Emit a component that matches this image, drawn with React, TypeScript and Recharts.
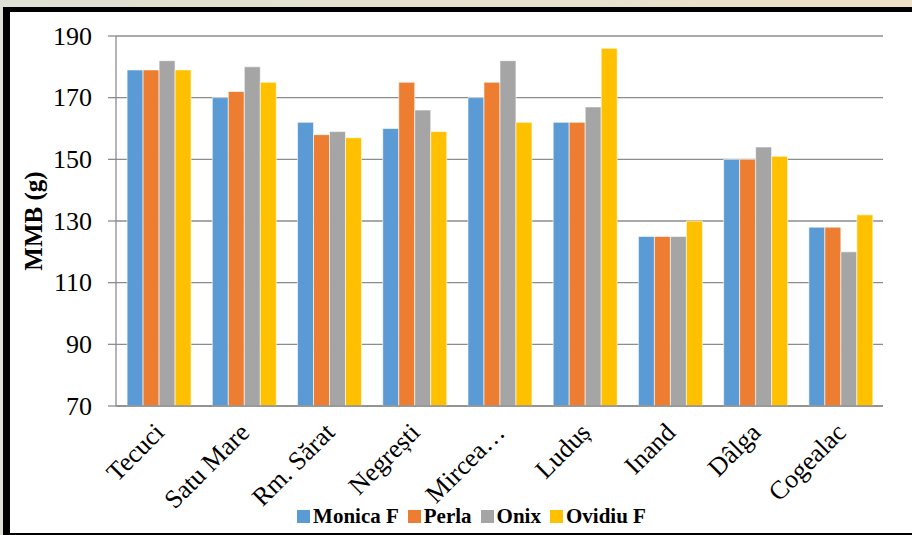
import { BarChart, Bar, XAxis, YAxis, CartesianGrid, Legend } from "recharts";

const CATEGORIES = ["Tecuci", "Satu Mare", "Rm. Sărat", "Negrești", "Mircea…", "Luduș", "Inand", "Dâlga", "Cogealac"];
const MONICA = [179, 170, 162, 160, 170, 162, 125, 150, 128];
const PERLA = [179, 172, 158, 175, 175, 162, 125, 150, 128];
const ONIX = [182, 180, 159, 166, 182, 167, 125, 154, 120];
const OVIDIU = [179, 175, 157, 159, 162, 186, 130, 151, 132];
const Y_TICKS = [70, 90, 110, 130, 150, 170, 190];
const EDGE_TICKS = [0, 1, 2, 3, 4, 5, 6, 7, 8, 9];

const SERIES = [
  { key: "monica", name: "Monica F", color: "#5b9bd5", values: MONICA },
  { key: "perla", name: "Perla", color: "#ed7d31", values: PERLA },
  { key: "onix", name: "Onix", color: "#a5a5a5", values: ONIX },
  { key: "ovidiu", name: "Ovidiu F", color: "#ffc000", values: OVIDIU },
];

const data = CATEGORIES.map((cat, i) => {
  const row: Record<string, string | number> = { cat };
  SERIES.forEach((s) => (row[s.key] = s.values[i]));
  return row;
});

const SERIF = "Liberation Serif, serif";
const GRID = "#8c8c8c";

function CatTick({ x, y, payload }: any) {
  return (
    <g transform={`translate(${x + 7},${y + 28})`}>
      <text textAnchor="end" transform="rotate(-45)" style={{ fontSize: 26, fontFamily: SERIF }} fill="#000">
        {payload.value}
      </text>
    </g>
  );
}

function ValTick({ x, y, payload }: any) {
  return (
    <text x={x} y={y} dy={8.5} textAnchor="end" style={{ fontSize: 26, fontFamily: SERIF }} fill="#000">
      {payload.value}
    </text>
  );
}

function YLabel({ viewBox }: any) {
  const cx = 33;
  const cy = viewBox.y + viewBox.height / 2;
  return (
    <text
      x={cx}
      y={cy}
      transform={`rotate(-90, ${cx}, ${cy})`}
      textAnchor="middle"
      dominantBaseline="central"
      style={{ fontSize: 25, fontWeight: "bold", fontFamily: SERIF }}
      fill="#000"
    >
      MMB (g)
    </text>
  );
}

function LegendBox() {
  return (
    <div
      style={{
        height: 22,
        display: "flex",
        justifyContent: "center",
        alignItems: "center",
        paddingLeft: 40,
        fontFamily: SERIF,
        fontWeight: "bold",
        fontSize: 21,
        color: "#000",
      }}
    >
      {SERIES.map((s) => (
        <span key={s.key} style={{ display: "flex", alignItems: "center", marginRight: 9 }}>
          <span style={{ width: 13, height: 13, background: s.color, marginRight: 3, display: "inline-block" }} />
          {s.name}
        </span>
      ))}
    </div>
  );
}

export default function App() {
  return (
    <div
      style={{
        position: "absolute",
        left: 0,
        top: 0,
        width: 912,
        height: 535,
        overflow: "hidden",
        background: "linear-gradient(90deg, #dfe1d4, #ece1c7)",
      }}
    >
      <div
        style={{
          position: "absolute",
          left: 3,
          top: 7,
          width: 960,
          height: 521,
          background: "#fff",
          borderLeft: "7px solid #000",
          borderTop: "5px solid #000",
          borderBottom: "2px solid #000",
        }}
      />
      <div style={{ position: "absolute", left: 0, top: 0 }}>
        <BarChart
          width={912}
          height={535}
          data={data}
          margin={{ top: 36, right: 29, left: 0, bottom: 0 }}
          barCategoryGap="13%"
          barGap={0}
        >
          <CartesianGrid vertical={false} stroke={GRID} strokeWidth={1.3} />
          <XAxis
            xAxisId="edges"
            type="number"
            domain={[0, 9]}
            ticks={EDGE_TICKS}
            height={0}
            axisLine={false}
            tickSize={8}
            tickLine={{ stroke: GRID, strokeWidth: 1.3 }}
            tick={() => <g />}
          />
          <XAxis
            xAxisId="cat"
            dataKey="cat"
            height={107}
            interval={0}
            tickLine={false}
            tickSize={0}
            tickMargin={0}
            axisLine={{ stroke: GRID, strokeWidth: 1.3 }}
            tick={<CatTick />}
          />
          <YAxis
            width={116}
            domain={[70, 190]}
            ticks={Y_TICKS}
            interval={0}
            tickSize={8}
            tickMargin={16}
            axisLine={{ stroke: GRID, strokeWidth: 1.3 }}
            tickLine={{ stroke: GRID, strokeWidth: 1.3 }}
            tick={<ValTick />}
            label={<YLabel />}
          />
          <Legend
            verticalAlign="bottom"
            content={<LegendBox />}
            wrapperStyle={{ left: 0, width: 912, bottom: 8 }}
          />
          {SERIES.map((s) => (
            <Bar
              key={s.key}
              xAxisId="cat"
              dataKey={s.key}
              name={s.name}
              fill={s.color}
              stroke="rgba(255,255,255,0.6)"
              strokeWidth={1}
              isAnimationActive={false}
            />
          ))}
        </BarChart>
      </div>
    </div>
  );
}
